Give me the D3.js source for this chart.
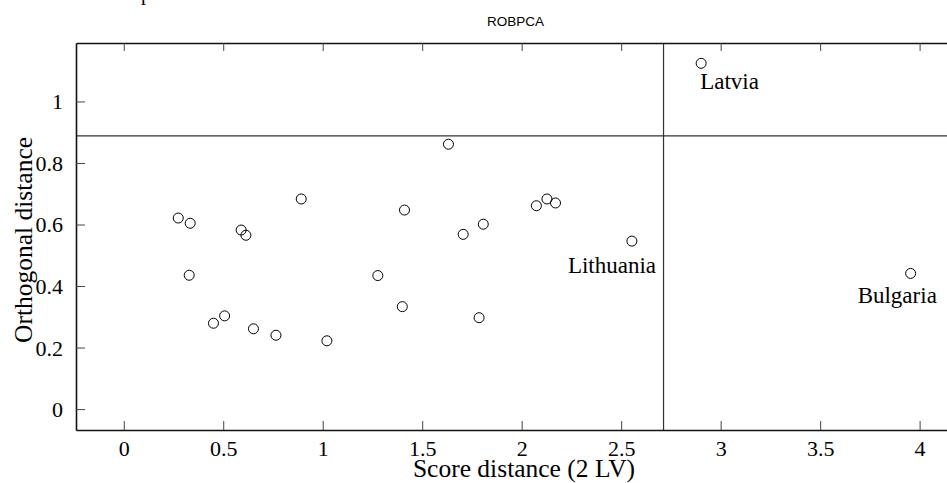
<!DOCTYPE html>
<html>
<head>
<meta charset="utf-8">
<script src="https://cdn.jsdelivr.net/npm/d3@7"></script>
<style>
  body { margin: 0; background: #fff; overflow: hidden; }
  svg text { font-family: 'Liberation Serif', 'Times New Roman', serif; }
</style>
</head>
<body>
<script>
'use strict';

// score distance / orthogonal distance per country
const scoreDist = [
  0.274, 0.334, 0.590, 0.614, 0.329, 0.451, 0.507, 0.652, 0.765, 1.021, 0.892,
  1.632, 1.411, 2.074, 2.127, 2.170, 1.807, 1.706, 2.554, 1.277, 1.400, 1.786,
  2.902, 3.955
];
const orthDist = [
  0.621, 0.604, 0.582, 0.565, 0.435, 0.279, 0.303, 0.261, 0.240, 0.222, 0.683,
  0.861, 0.647, 0.661, 0.683, 0.670, 0.601, 0.568, 0.546, 0.434, 0.333, 0.297,
  1.124, 0.441
];
const labelNames = ['Lithuania', 'Latvia', 'Bulgaria'];
const labelIndex = [18, 22, 23];

const xTicks = [0, 0.5, 1, 1.5, 2, 2.5, 3, 3.5, 4];
const yTicks = [0, 0.2, 0.4, 0.6, 0.8, 1];

// cutoff values
const sdCutoff = 2.713;
const odCutoff = 0.888;

const width = 947;
const height = 483;

(function() {
  const svg = d3.select('body')
    .append('svg')
    .attr('width', width)
    .attr('height', height);

  const xScale = d3.scaleLinear().domain([-0.24, 4.2]).range([76, 959.4]);
  const yScale = d3.scaleLinear().domain([-0.068, 1.19]).range([430, 43]);

  const [x0, x1] = xScale.range();
  const [y0, y1] = yScale.range();

  // cut-off heading fragment at the very top
  svg.append('text')
    .attr('x', 141)
    .attr('y', -0.5)
    .style('font-size', '20px')
    .text('p');

  // title
  svg.append('text')
    .attr('x', 515.5)
    .attr('y', 26)
    .attr('text-anchor', 'middle')
    .style('font-family', "'Liberation Sans', Arial, sans-serif")
    .style('font-size', '13.5px')
    .text('ROBPCA');

  // cutoff lines
  svg.append('line')
    .attr('x1', x0).attr('x2', x1)
    .attr('y1', yScale(odCutoff)).attr('y2', yScale(odCutoff))
    .attr('stroke', '#333').attr('stroke-width', 1.2);
  svg.append('line')
    .attr('x1', xScale(sdCutoff)).attr('x2', xScale(sdCutoff))
    .attr('y1', y0).attr('y2', y1)
    .attr('stroke', '#333').attr('stroke-width', 1.2);

  // axes (ticks pointing inward, box around)
  const xAxisBottom = d3.axisBottom(xScale)
    .tickValues(xTicks)
    .tickSizeInner(-9)
    .tickSizeOuter(0)
    .tickPadding(13)
    .tickFormat(d3.format('~g'));
  const gx = svg.append('g')
    .attr('transform', 'translate(0,' + y0 + ')')
    .call(xAxisBottom);

  const xAxisTop = d3.axisTop(xScale)
    .tickValues(xTicks)
    .tickSizeInner(-8)
    .tickSizeOuter(0)
    .tickFormat('');
  const gxt = svg.append('g')
    .attr('transform', 'translate(0,' + y1 + ')')
    .call(xAxisTop);

  const yAxisLeft = d3.axisLeft(yScale)
    .tickValues(yTicks)
    .tickSizeInner(-9)
    .tickSizeOuter(0)
    .tickPadding(13)
    .tickFormat(d3.format('~g'));
  const gy = svg.append('g')
    .attr('transform', 'translate(' + x0 + ',0)')
    .call(yAxisLeft);

  [gx, gxt, gy].forEach(g => {
    g.attr('font-family', "'Liberation Serif', 'Times New Roman', serif")
      .attr('font-size', 22);
    g.select('.domain').attr('stroke', '#111').attr('stroke-width', 1.6);
    g.selectAll('.tick line').attr('stroke', '#444').attr('stroke-width', 1);
    g.selectAll('.tick text').attr('fill', '#000');
  });
  gx.selectAll('.tick text').attr('dy', '0.6em');
  gy.selectAll('.tick text').attr('dy', '0.34em');

  // axis labels
  svg.append('text')
    .attr('x', 524)
    .attr('y', 477)
    .attr('text-anchor', 'middle')
    .style('font-size', '25.5px')
    .text('Score distance (2 LV)');

  svg.append('text')
    .attr('transform', 'translate(32, 240)rotate(-90)')
    .attr('text-anchor', 'middle')
    .style('font-size', '25.5px')
    .text('Orthogonal distance');

  // points
  const points = scoreDist.map((d, i) => ({ sd: d, od: orthDist[i] }));
  svg.selectAll('.dot')
    .data(points)
    .enter()
    .append('circle')
    .attr('class', 'dot')
    .attr('cx', d => xScale(d.sd))
    .attr('cy', d => yScale(d.od))
    .attr('r', 5)
    .attr('fill', 'none')
    .attr('stroke', '#000')
    .attr('stroke-width', 1);

  // labels for flagged countries
  const labelOffset = {
    Lithuania: { dx: -64, dy: 32 },
    Latvia: { dx: -1, dy: 26 },
    Bulgaria: { dx: -53, dy: 30 }
  };
  svg.selectAll('.lbl')
    .data(labelNames)
    .enter()
    .append('text')
    .attr('class', 'lbl')
    .attr('x', (d, i) => xScale(scoreDist[labelIndex[i]]) + labelOffset[d].dx)
    .attr('y', (d, i) => yScale(orthDist[labelIndex[i]]) + labelOffset[d].dy)
    .style('font-size', '23px')
    .text(d => d);
})();
</script>
</body>
</html>
